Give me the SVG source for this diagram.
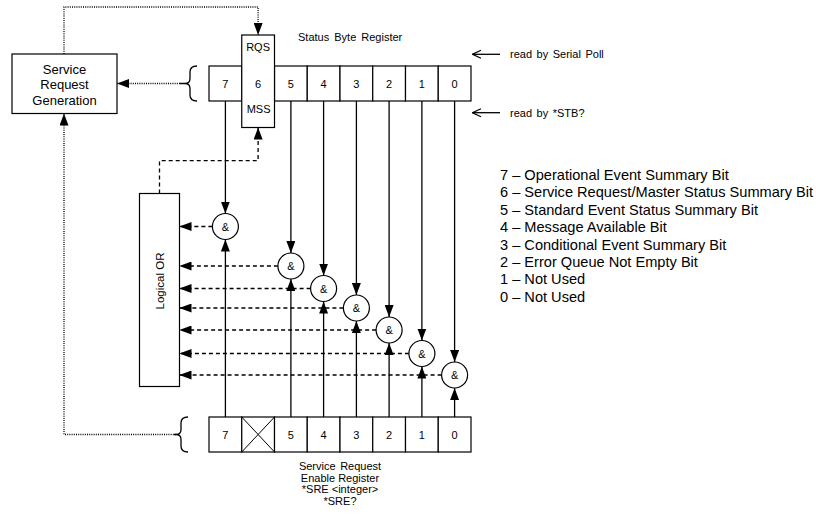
<svg xmlns="http://www.w3.org/2000/svg" width="816" height="516" viewBox="0 0 816 516">
<style>
.box{fill:#fff;stroke:#000;stroke-width:1.2}
.ln{fill:none;stroke:#000;stroke-width:1.3}
.dash{fill:none;stroke:#000;stroke-width:1.3;stroke-dasharray:4 3}
.dot{fill:none;stroke:#000;stroke-width:1.3;stroke-dasharray:1 1.2}
.t{font-family:"Liberation Sans",Arial,sans-serif;font-size:11px;fill:#000}
.c{text-anchor:middle}
.big{font-size:13px}
.leg{font-size:14.6px}
</style>
<defs>
<marker id="arr" markerUnits="userSpaceOnUse" markerWidth="12" markerHeight="9" viewBox="0 0 12 9" refX="12" refY="4.5" orient="auto">
<path d="M0,0 L12,4.5 L0,9 z" fill="#000"/>
</marker>
<marker id="open" markerUnits="userSpaceOnUse" markerWidth="10" markerHeight="10" viewBox="0 0 10 10" refX="9.5" refY="5" orient="auto">
<path d="M1,1 L9.5,5 L1,9" fill="none" stroke="#000" stroke-width="1.2"/>
</marker>
</defs>
<rect width="816" height="516" fill="#fff"/>

<g id="connectors">
<!-- top register to gates -->
<path class="ln" d="M225.4 101V213.5" marker-end="url(#arr)"/>
<path class="ln" d="M290.9 101V253" marker-end="url(#arr)"/>
<path class="ln" d="M323.6 101V275.5" marker-end="url(#arr)"/>
<path class="ln" d="M356.4 101V295" marker-end="url(#arr)"/>
<path class="ln" d="M389.1 101V317" marker-end="url(#arr)"/>
<path class="ln" d="M421.9 101V340.5" marker-end="url(#arr)"/>
<path class="ln" d="M454.6 101V362" marker-end="url(#arr)"/>
<!-- enable register to gates -->
<path class="ln" d="M225.4 417V239.5" marker-end="url(#arr)"/>
<path class="ln" d="M290.9 417V279" marker-end="url(#arr)"/>
<path class="ln" d="M323.6 417V301.5" marker-end="url(#arr)"/>
<path class="ln" d="M356.4 417V321" marker-end="url(#arr)"/>
<path class="ln" d="M389.1 417V343" marker-end="url(#arr)"/>
<path class="ln" d="M421.9 417V366.5" marker-end="url(#arr)"/>
<path class="ln" d="M454.6 417V388" marker-end="url(#arr)"/>
<!-- gates to OR -->
<path class="dash" d="M212.4 226.5H179.5" marker-end="url(#arr)"/>
<path class="dash" d="M277.9 266H179.5" marker-end="url(#arr)"/>
<path class="dash" d="M310.6 288.5H179.5" marker-end="url(#arr)"/>
<path class="dash" d="M343.4 308H179.5" marker-end="url(#arr)"/>
<path class="dash" d="M376.1 330H179.5" marker-end="url(#arr)"/>
<path class="dash" d="M408.9 353.5H179.5" marker-end="url(#arr)"/>
<path class="dash" d="M441.6 375H179.5" marker-end="url(#arr)"/>
<!-- OR to MSS -->
<path class="dash" d="M159.5 193.5V160.7H258.1V127.5" marker-end="url(#arr)"/>
<!-- dotted -->
<path class="dot" d="M64 54V7H258.1V35" marker-end="url(#arr)"/>
<path class="dot" d="M180 83.5H117" marker-end="url(#arr)"/>
<path class="dot" d="M176 434.5H64V113.5" marker-end="url(#arr)"/>
<!-- braces -->
<path class="ln" d="M197 66Q190 66 190 72V78.5Q190 83.5 185 83.5H180M185 83.5Q190 83.5 190 88.5V95Q190 101 197 101"/>
<path class="ln" d="M188 417Q181 417 181 423V429.5Q181 434.5 176 434.5H174M176 434.5Q181 434.5 181 439.5V446Q181 452 188 452"/>
<!-- read by arrows -->
<path class="ln" d="M500 54.3H472.5" marker-end="url(#open)"/>
<path class="ln" d="M500 112.7H472.5" marker-end="url(#open)"/>
</g>

<g id="service-request-generation">
<rect class="box" x="12" y="54" width="105" height="59.5"/>
<text class="t big c" x="64.5" y="73.7">Service</text>
<text class="t big c" x="64.5" y="89.4">Request</text>
<text class="t big c" x="64.5" y="104.9">Generation</text>
</g>

<g id="status-byte-register">
<text class="t" x="298" y="40.7" style="word-spacing:2px">Status Byte Register</text>
<rect class="box" x="209" y="66" width="32.75" height="35"/>
<rect class="box" x="274.5" y="66" width="32.75" height="35"/>
<rect class="box" x="307.25" y="66" width="32.75" height="35"/>
<rect class="box" x="340" y="66" width="32.75" height="35"/>
<rect class="box" x="372.75" y="66" width="32.75" height="35"/>
<rect class="box" x="405.5" y="66" width="32.75" height="35"/>
<rect class="box" x="438.25" y="66" width="32.75" height="35"/>
<rect class="box" x="241.75" y="35" width="32.75" height="92.5"/>
<text class="t c" x="225.4" y="87.5">7</text>
<text class="t c" x="258.1" y="87.5">6</text>
<text class="t c" x="290.9" y="87.5">5</text>
<text class="t c" x="323.6" y="87.5">4</text>
<text class="t c" x="356.4" y="87.5">3</text>
<text class="t c" x="389.1" y="87.5">2</text>
<text class="t c" x="421.9" y="87.5">1</text>
<text class="t c" x="454.6" y="87.5">0</text>
<text class="t c" x="258.1" y="50.7">RQS</text>
<text class="t c" x="258.6" y="113.3">MSS</text>
</g>

<g id="read-labels">
<text class="t" x="510" y="58.3" style="word-spacing:1.5px">read by Serial Poll</text>
<text class="t" x="510" y="116.7" style="word-spacing:1.5px">read by *STB?</text>
</g>

<g id="logical-or">
<rect class="box" x="139.5" y="193.5" width="40" height="193"/>
<text class="t c" transform="translate(163.5 281) rotate(-90)" x="0" y="0" style="font-size:11.5px">Logical OR</text>
</g>

<g id="gates">
<g id="gate-7"><circle class="box" cx="225.4" cy="226.5" r="13"/><text class="t c" x="225.4" y="230.5">&amp;</text></g>
<g id="gate-5"><circle class="box" cx="290.9" cy="266" r="13"/><text class="t c" x="290.9" y="270">&amp;</text></g>
<g id="gate-4"><circle class="box" cx="323.6" cy="288.5" r="13"/><text class="t c" x="323.6" y="292.5">&amp;</text></g>
<g id="gate-3"><circle class="box" cx="356.4" cy="308" r="13"/><text class="t c" x="356.4" y="312">&amp;</text></g>
<g id="gate-2"><circle class="box" cx="389.1" cy="330" r="13"/><text class="t c" x="389.1" y="334">&amp;</text></g>
<g id="gate-1"><circle class="box" cx="421.9" cy="353.5" r="13"/><text class="t c" x="421.9" y="357.5">&amp;</text></g>
<g id="gate-0"><circle class="box" cx="454.6" cy="375" r="13"/><text class="t c" x="454.6" y="379">&amp;</text></g>
</g>

<g id="service-request-enable-register">
<rect class="box" x="209" y="417" width="32.75" height="35"/>
<rect class="box" x="241.75" y="417" width="32.75" height="35"/>
<rect class="box" x="274.5" y="417" width="32.75" height="35"/>
<rect class="box" x="307.25" y="417" width="32.75" height="35"/>
<rect class="box" x="340" y="417" width="32.75" height="35"/>
<rect class="box" x="372.75" y="417" width="32.75" height="35"/>
<rect class="box" x="405.5" y="417" width="32.75" height="35"/>
<rect class="box" x="438.25" y="417" width="32.75" height="35"/>
<path class="ln" d="M241.75 417L274.5 452M274.5 417L241.75 452" style="stroke-width:1"/>
<text class="t c" x="225.4" y="438.5">7</text>
<text class="t c" x="290.9" y="438.5">5</text>
<text class="t c" x="323.6" y="438.5">4</text>
<text class="t c" x="356.4" y="438.5">3</text>
<text class="t c" x="389.1" y="438.5">2</text>
<text class="t c" x="421.9" y="438.5">1</text>
<text class="t c" x="454.6" y="438.5">0</text>
<text class="t c" x="340" y="470" style="word-spacing:1.5px">Service Request</text>
<text class="t c" x="340" y="481.5">Enable Register</text>
<text class="t c" x="340" y="493">*SRE &lt;integer&gt;</text>
<text class="t c" x="340" y="505">*SRE?</text>
</g>

<g id="legend">
<text class="t leg" x="500" y="180">7 – Operational Event Summary Bit</text>
<text class="t leg" x="500" y="197.4">6 – Service Request/Master Status Summary Bit</text>
<text class="t leg" x="500" y="214.8">5 – Standard Event Status Summary Bit</text>
<text class="t leg" x="500" y="232.2">4 – Message Available Bit</text>
<text class="t leg" x="500" y="249.6">3 – Conditional Event Summary Bit</text>
<text class="t leg" x="500" y="267">2 – Error Queue Not Empty Bit</text>
<text class="t leg" x="500" y="284.4">1 – Not Used</text>
<text class="t leg" x="500" y="301.8">0 – Not Used</text>
</g>
</svg>
